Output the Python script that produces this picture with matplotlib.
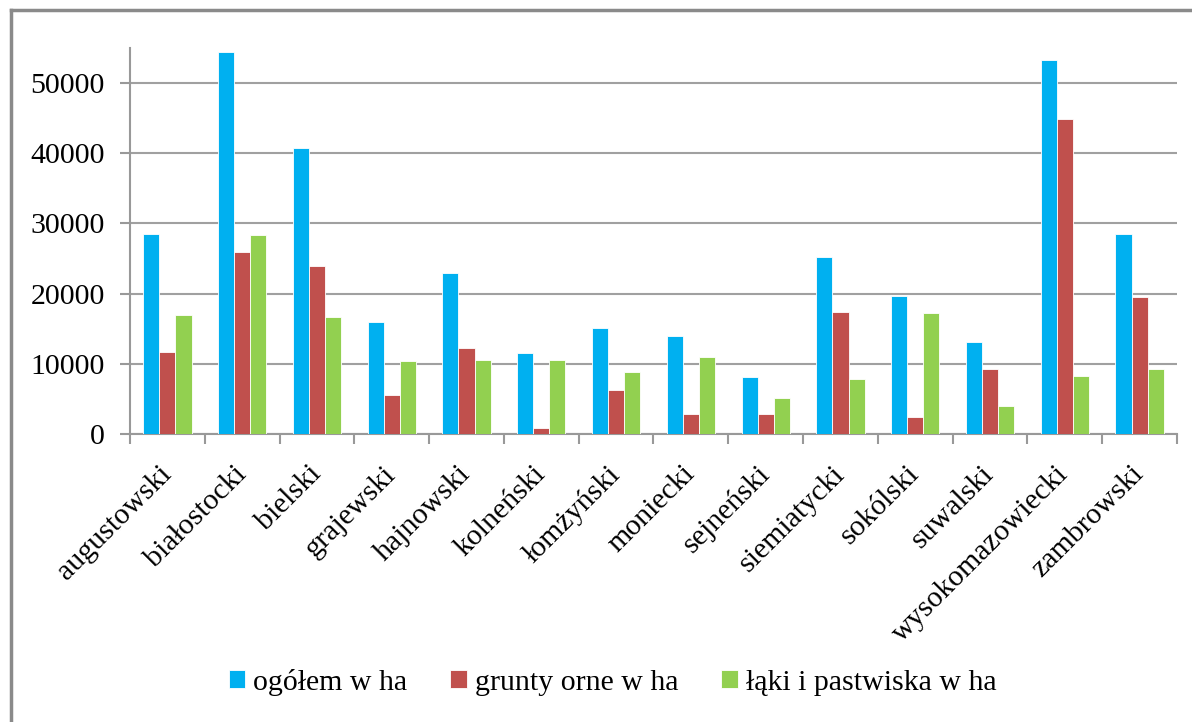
import numpy as np
import matplotlib
matplotlib.use("Agg")
import matplotlib.pyplot as plt
from matplotlib.lines import Line2D

powiaty = ["augustowski", "białostocki", "bielski", "grajewski", "hajnowski",
           "kolneński", "łomżyński", "moniecki", "sejneński", "siemiatycki",
           "sokólski", "suwalski", "wysokomazowiecki", "zambrowski"]

ogolem = [28500, 54400, 40800, 16000, 22900, 11500, 15100, 14000, 8100, 25200,
          19700, 13100, 53300, 28500]
grunty_orne = [11700, 26000, 24000, 5600, 12200, 800, 6300, 2800, 2800, 17400,
               2400, 9200, 44900, 19500]
laki_pastwiska = [16900, 28300, 16700, 10400, 10600, 10600, 8800, 11000, 5200, 7900,
                  17200, 4000, 8300, 9200]

series = [("ogółem w ha", ogolem, "#00B0F0"),
          ("grunty orne w ha", grunty_orne, "#C0504D"),
          ("łąki i pastwiska w ha", laki_pastwiska, "#92D050")]

plt.rcParams['font.family'] = ['Liberation Serif', 'DejaVu Serif']
FS = 21.5

fig = plt.figure(figsize=(11.92, 7.22), dpi=100)
ax = fig.add_axes([130 / 1192, 1 - 434 / 722, 1047 / 1192, 386 / 722])

x = np.arange(len(powiaty))
w = 0.215
for i, (name, vals, col) in enumerate(series):
    ax.bar(x + (i - 1) * w, vals, width=w, color=col, label=name,
           edgecolor="white", linewidth=0.6, zorder=3)

ax.set_xlim(-0.5, len(powiaty) - 0.5)
ax.set_ylim(0, 55000)
ax.set_yticks(np.arange(0, 50001, 10000))
ax.yaxis.grid(True, color="#a0a0a0", linewidth=1.5, zorder=0)

for s in ["top", "right"]:
    ax.spines[s].set_visible(False)
for s in ["left", "bottom"]:
    ax.spines[s].set_color("#999999")
    ax.spines[s].set_linewidth(1.5)

ax.tick_params(axis="y", length=7, width=1.5, color="#999999", pad=11,
               labelsize=FS)
# category boundaries get the tick marks, labels sit at the centres
ax.set_xticks(x)
ax.set_xticks(np.arange(-0.5, len(powiaty), 1.0), minor=True)
ax.tick_params(axis="x", which="major", length=0, pad=26)
ax.tick_params(axis="x", which="minor", length=7, width=1.5, color="#999999")
ax.set_xticklabels(powiaty, rotation=45, ha="right", va="center",
                   rotation_mode="anchor", fontsize=FS)

fig.legend(loc="center", bbox_to_anchor=(0.514, 1 - 682 / 722), ncol=3,
           frameon=False, fontsize=FS, handlelength=0.55, handleheight=0.55,
           handletextpad=0.27, columnspacing=1.44)

# outer chart frame (left and top edges)
fig.add_artist(Line2D([11 / 1192, 11 / 1192], [0, 1 - 10 / 722],
                      transform=fig.transFigure, color="#8a8a8a", linewidth=2.5))
fig.add_artist(Line2D([11 / 1192, 1], [1 - 10 / 722, 1 - 10 / 722],
                      transform=fig.transFigure, color="#8a8a8a", linewidth=2.5))

fig.savefig("out.png", dpi=100)
